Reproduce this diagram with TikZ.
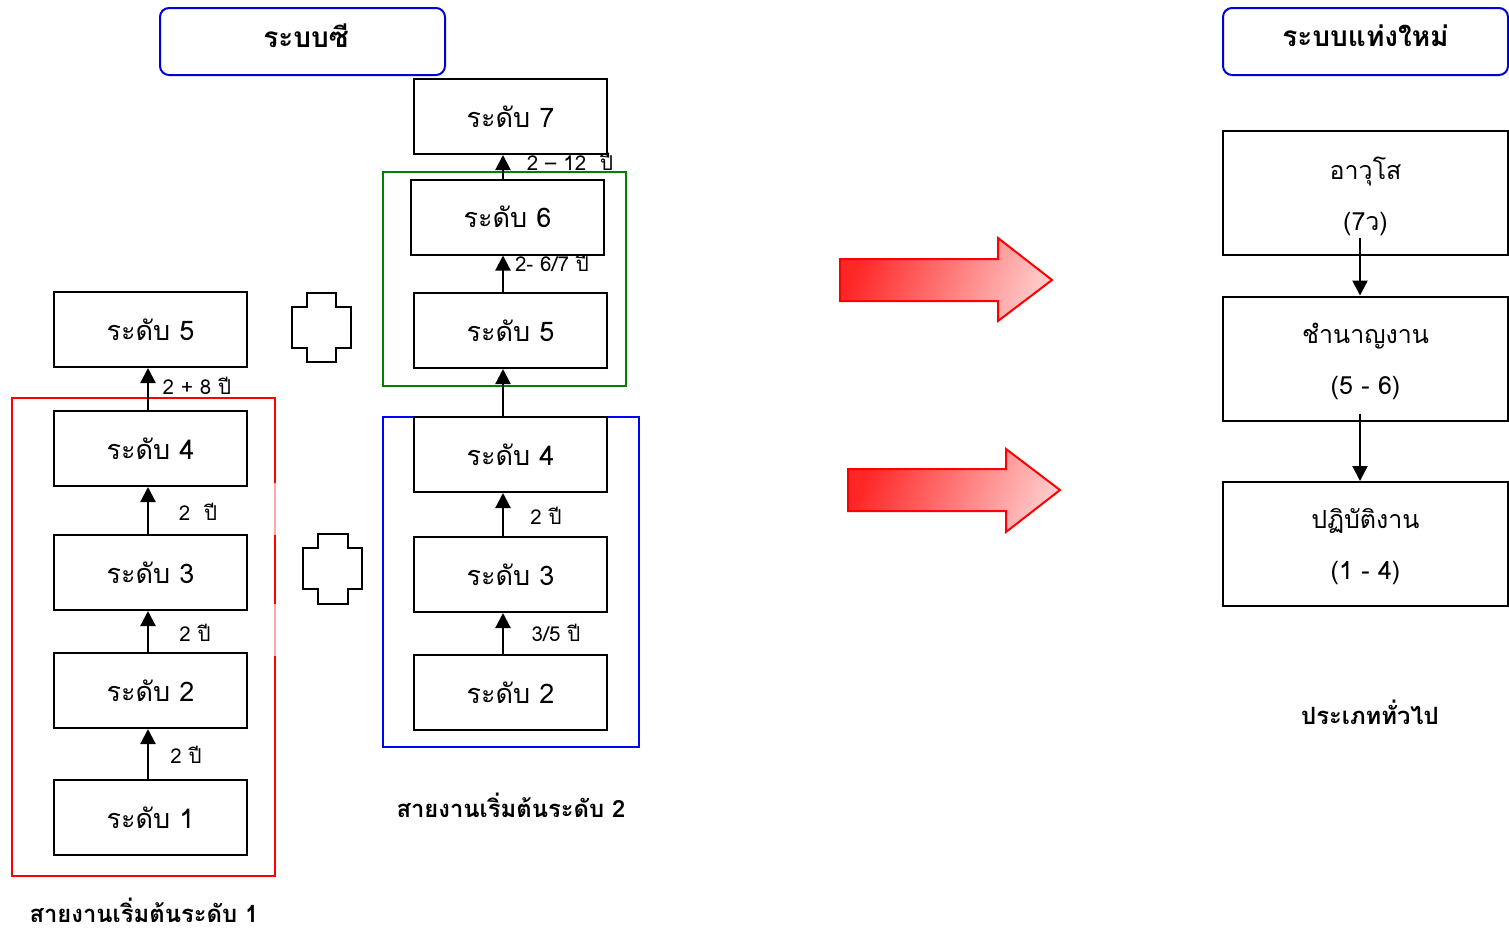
\documentclass[tikz,border=0pt]{standalone}
\usepackage{fontspec}
\newfontfamily\thai[Script=Thai]{Loma}
\usetikzlibrary{arrows.meta}

\tikzset{
  lvl/.style={draw, fill=white, line width=2, minimum width=193, minimum height=75,
    inner sep=0, font=\thai\fontsize{27}{30}\selectfont},
  bigbox/.style={draw, fill=white, line width=2, minimum width=285, minimum height=124,
    inner sep=0},
  bigtext/.style={inner sep=0, align=center, font=\thai\fontsize{25}{51}\selectfont},
  title/.style={draw=blue!85!black, line width=2, rounded corners=9, minimum width=285,
    minimum height=67, inner sep=0},
  titletext/.style={inner sep=0, font=\thai\bfseries\fontsize{28}{32}\selectfont},
  yrs/.style={inner sep=0, font=\thai\fontsize{20.5}{24}\selectfont},
  caption/.style={inner sep=0, font=\thai\bfseries\fontsize{23.8}{28}\selectfont},
  up/.style={line width=2.2, -{Triangle[width=15,length=15]}},
  grp/.style={line width=1.6},
  plusshape/.style={line width=2.2, line join=miter, fill=white},
  fatarrow/.style={draw=red, line width=2, line join=miter,
    left color=red!85, right color=red!22, shading angle=70}
}

\begin{document}
\begin{tikzpicture}[x=1pt, y=-1pt]
\useasboundingbox (0,0) rectangle (1509,932);

% ---------- column titles ----------
\node[title] (tc) at (302.5,41.5) {};
\node[titletext] (tct) at (306,36) {ระบบซี};
\node[title] (tn) at (1365.5,41.5) {};
\node[titletext] (tnt) at (1365.5,36) {ระบบแท่งใหม่};

% ---------- group frames ----------
\draw[grp, red] (275,483) -- (275,398) -- (12,398) -- (12,876) -- (275,876) -- (275,656);
\draw[grp, red] (275,535) -- (275,604);
\draw[grp, red!35] (275,483) -- (275,535) (275,604) -- (275,656);
\draw[grp, green!50!black] (383,172) rectangle (626,386);
\draw[grp, blue] (383,417) rectangle (639,747);

% ---------- year labels ----------
\node[yrs] (y45) at (197,386) {2 + 8 ปี};
\node[yrs] (y34) at (198,512) {2 \ ปี};
\node[yrs] (y23) at (195,633) {2 ปี};
\node[yrs] (y12) at (186,755) {2 ปี};
\node[yrs] (y67) at (570,162) {2 – 12 \ ปี};
\node[yrs] (y56) at (552,263) {2- 6/7 ปี};
\node[yrs] (m34) at (546,516) {2 ปี};
\node[yrs] (m23) at (556,633) {3/5 ปี};

% ---------- starting at level 1 ----------
\node[lvl] (l5) at (150.5,329.5) {ระดับ 5};
\node[lvl] (l4) at (150.5,448.5) {ระดับ 4};
\node[lvl] (l3) at (150.5,572.5) {ระดับ 3};
\node[lvl] (l2) at (150.5,690.5) {ระดับ 2};
\node[lvl] (l1) at (150.5,817.5) {ระดับ 1};

\foreach \lo/\hi in {l1/l2, l2/l3, l3/l4, l4/l5}
  \draw[up] ([xshift=-2.5]\lo.north) -- ([xshift=-2.5]\hi.south);

% ---------- starting at level 2 ----------
\node[lvl] (m7) at (510.5,116.5) {ระดับ 7};
\node[lvl] (m6) at (507.5,217) {ระดับ 6};
\node[lvl] (m5) at (510.5,330.5) {ระดับ 5};
\node[lvl] (m4) at (510.5,454.5) {ระดับ 4};
\node[lvl] (m3) at (510.5,574.5) {ระดับ 3};
\node[lvl] (m2) at (510.5,692.5) {ระดับ 2};

\coordinate (a67) at ([xshift=-4.5]m6.north);
\draw[up] (a67) -- (a67 |- m7.south);
\coordinate (a56) at ([xshift=-7.5]m5.north);
\draw[up] (a56) -- (a56 |- m6.south);
\foreach \lo/\hi in {m2/m3, m3/m4, m4/m5}
  \draw[up] ([xshift=-7.5]\lo.north) -- ([xshift=-7.5]\hi.south);

% ---------- plus signs ----------
\draw[plusshape] (307,293) -- (336,293) -- (336,307) -- (351,307) -- (351,348)
  -- (336,348) -- (336,362) -- (307,362) -- (307,348) -- (292,348) -- (292,307)
  -- (307,307) -- cycle;
\draw[plusshape] (318,534) -- (348,534) -- (348,548) -- (362,548) -- (362,589)
  -- (348,589) -- (348,604) -- (318,604) -- (318,589) -- (303,589) -- (303,548)
  -- (318,548) -- cycle;

% ---------- transition arrows ----------
\path[fatarrow] (840,259) -- (998,259) -- (998,238) -- (1052,280) -- (998,321)
  -- (998,301) -- (840,301) -- cycle;
\path[fatarrow] (848,469) -- (1006,469) -- (1006,449) -- (1060,490) -- (1006,532)
  -- (1006,511) -- (848,511) -- cycle;

% ---------- new structure ----------
\node[bigbox] (n1) at (1365.5,193) {};
\node[bigtext] (n1t) at (1365.5,196) {อาวุโส\\(7ว)};
\node[bigbox] (n2) at (1365.5,358.5) {};
\node[bigtext] (n2t) at (1365.5,361.5) {ชำนาญงาน\\(5 - 6)};
\node[bigbox] (n3) at (1365.5,544) {};
\node[bigtext] (n3t) at (1365.5,547) {ปฏิบัติงาน\\(1 - 4)};

\coordinate (b12) at ([xshift=-5.5,yshift=18]n1.south);
\draw[up] (b12) -- (b12 |- n2.north);
\coordinate (b23) at ([xshift=-5.5,yshift=8]n2.south);
\draw[up] (b23) -- (b23 |- n3.north);

% ---------- captions ----------
\node[caption] (c2) at (511,805) {สายงานเริ่มต้นระดับ 2};
\node[caption] (c1) at (144,910) {สายงานเริ่มต้นระดับ 1};
\node[caption] (cg) at (1370,712) {ประเภททั่วไป};
\end{tikzpicture}
\end{document}
